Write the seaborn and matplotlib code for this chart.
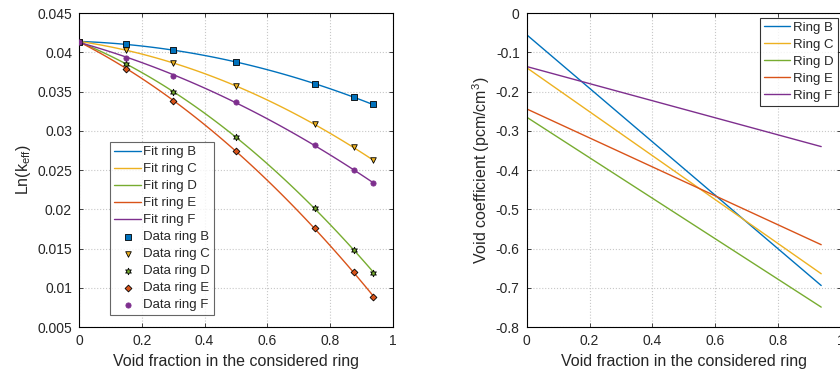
import numpy as np
import pandas as pd
import matplotlib
matplotlib.use('Agg')
import matplotlib.pyplot as plt
import seaborn as sns

# void fraction points used in the calculations
void_frac = [0.0, 0.15, 0.3, 0.5, 0.75, 0.875, 0.9375]
rings = ['B', 'C', 'D', 'E', 'F']

# Ln(keff)
lnk_B = [0.04138, 0.04104, 0.04028, 0.03883, 0.03594, 0.03428, 0.03338]
lnk_C = [0.04138, 0.04032, 0.03866, 0.03568, 0.03083, 0.02789, 0.02623]
lnk_D = [0.04138, 0.03849, 0.03496, 0.02921, 0.02015, 0.01483, 0.01194]
lnk_E = [0.04138, 0.03794, 0.03385, 0.02738, 0.01760, 0.01202, 0.00883]
lnk_F = [0.04138, 0.03930, 0.03704, 0.03372, 0.02819, 0.02500, 0.02334]

# void coefficient end points (right panel, straight lines)
vc_x = [0.0, 0.9375]
vc_B = [-0.055, -0.694]
vc_C = [-0.139, -0.664]
vc_D = [-0.265, -0.749]
vc_E = [-0.244, -0.590]
vc_F = [-0.136, -0.340]

colors = {'B': '#0072BD', 'C': '#EDB120', 'D': '#77AC30', 'E': '#D95319', 'F': '#7E2F8E'}
markers = {'B': 's', 'C': 'v', 'D': (6, 1, 0), 'E': 'D', 'F': 'o'}
msizes = {'B': 15, 'C': 16, 'D': 22, 'E': 12, 'F': 14}

lnk = pd.DataFrame({'x': void_frac, 'B': lnk_B, 'C': lnk_C, 'D': lnk_D, 'E': lnk_E, 'F': lnk_F})
vc = pd.DataFrame({'x': vc_x, 'B': vc_B, 'C': vc_C, 'D': vc_D, 'E': vc_E, 'F': vc_F})

sns.set_style('ticks')
plt.rcParams['font.family'] = ['Liberation Sans', 'DejaVu Sans']
plt.rcParams['axes.unicode_minus'] = False
plt.rcParams['mathtext.fontset'] = 'custom'
plt.rcParams['mathtext.rm'] = 'Liberation Sans'
plt.rcParams['mathtext.it'] = 'Liberation Sans'

fig = plt.figure(figsize=(8.4, 3.76), dpi=100)
ax1 = fig.add_axes([0.094, 0.130, 0.374, 0.835])
ax2 = fig.add_axes([0.627, 0.130, 0.374, 0.835])


def style_axes(ax):
    ax.grid(True, linestyle=':', color='#c8c8c8', linewidth=0.8)
    for s in ax.spines.values():
        s.set_visible(True)
        s.set_color('black')
        s.set_linewidth(0.8)
    ax.tick_params(direction='in', length=3, width=0.6, labelsize=10,
                   top=True, right=True, pad=5)


# left: quadratic fits + data
xs = np.linspace(0, void_frac[-1], 100)
for r in rings:
    coef = np.polyfit(lnk['x'], lnk[r], 2)
    fit = pd.DataFrame({'x': xs, 'y': np.polyval(coef, xs)})
    sns.lineplot(data=fit, x='x', y='y', ax=ax1, color=colors[r], linewidth=1.0,
                 label='Fit ring ' + r)
for r in rings:
    sns.scatterplot(data=lnk, x='x', y=r, ax=ax1, marker=markers[r], s=msizes[r],
                    color=colors[r], edgecolor='black' if r != 'F' else colors[r],
                    linewidth=0.6, label='Data ring ' + r, zorder=3)

ax1.set_xlim(0, 1)
ax1.set_ylim(0.005, 0.045)
yt = [0.005, 0.01, 0.015, 0.02, 0.025, 0.03, 0.035, 0.04, 0.045]
ax1.set_yticks(yt)
ax1.set_yticklabels(['%g' % v for v in yt])
xt = [0, 0.2, 0.4, 0.6, 0.8, 1]
ax1.set_xticks(xt)
ax1.set_xticklabels(['%g' % v for v in xt])
ax1.set_xlabel('Void fraction in the considered ring', fontsize=11.5, labelpad=4)
ax1.set_ylabel('Ln(k$_{\\rm eff}$)', fontsize=11.5, labelpad=3)
style_axes(ax1)
leg1 = ax1.legend(loc='lower left', bbox_to_anchor=(0.1, 0.038), fontsize=9.5,
                  frameon=True, fancybox=False, edgecolor='#404040',
                  handlelength=2.0, handletextpad=0.2, borderpad=0.3,
                  labelspacing=0.36, borderaxespad=0)
leg1.get_frame().set_linewidth(0.8)

# right: void coefficient lines
for r in rings:
    sns.lineplot(data=vc, x='x', y=r, ax=ax2, color=colors[r], linewidth=1.0,
                 label='Ring ' + r)
ax2.set_xlim(0, 1)
ax2.set_ylim(-0.8, 0)
yt2 = [-0.8, -0.7, -0.6, -0.5, -0.4, -0.3, -0.2, -0.1, 0]
ax2.set_yticks(yt2)
ax2.set_yticklabels(['%g' % v for v in yt2])
ax2.set_xticks(xt)
ax2.set_xticklabels(['%g' % v for v in xt])
ax2.set_xlabel('Void fraction in the considered ring', fontsize=11.5, labelpad=4)
ax2.set_ylabel('Void coefficient (pcm/cm$^3$)', fontsize=11.5, labelpad=3)
style_axes(ax2)
leg2 = ax2.legend(loc='upper right', bbox_to_anchor=(0.99, 0.985), fontsize=9.5,
                  frameon=True, fancybox=False, edgecolor='black',
                  handlelength=2.0, handletextpad=0.2, borderpad=0.3,
                  labelspacing=0.36, borderaxespad=0)
leg2.get_frame().set_linewidth(0.8)

fig.savefig('out.png', dpi=100)
